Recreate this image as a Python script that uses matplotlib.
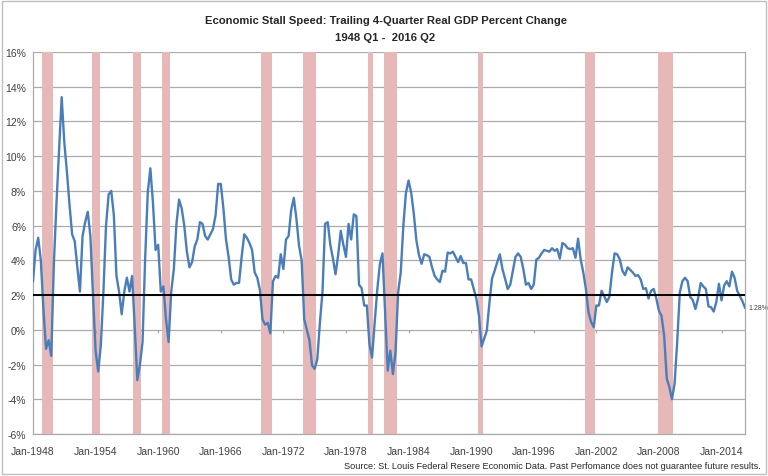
import numpy as np
import pandas as pd
import matplotlib
matplotlib.use('Agg')
import matplotlib.pyplot as plt
from matplotlib.patches import Rectangle

# Trailing 4-quarter real GDP % change, 1948 Q1 .. 2016 Q2
quarters = pd.period_range('1948Q1', '2016Q2', freq='Q')
gdp_yoy = [
    2.8, 4.6, 5.3, 4.0,       # 1948
    1.2, -1.1, -0.6, -1.5,    # 1949
    3.8, 7.3, 10.3, 13.4,     # 1950
    10.8, 9.1, 7.2, 5.5,      # 1951
    5.1, 3.6, 2.2, 5.4,       # 1952
    6.2, 6.8, 5.4, 2.0,       # 1953
    -1.2, -2.4, -0.9, 2.2,    # 1954
    6.0, 7.8, 8.0, 6.6,       # 1955
    3.1, 2.2, 0.9, 2.2,       # 1956
    3.0, 2.2, 3.1, 0.2,       # 1957
    -2.9, -2.0, -0.7, 4.1,    # 1958
    7.9, 9.3, 7.3, 4.6,       # 1959
    4.9, 2.2, 2.5, 0.6,       # 1960
    -0.7, 2.2, 3.5, 6.1,      # 1961
    7.5, 7.0, 6.0, 4.5,       # 1962
    3.6, 3.9, 4.8, 5.2,       # 1963
    6.2, 6.1, 5.4, 5.2,       # 1964
    5.5, 5.8, 6.6, 8.4,       # 1965
    8.4, 7.0, 5.2, 4.2,       # 1966
    2.9, 2.6, 2.7, 2.7,       # 1967
    4.2, 5.5, 5.3, 5.0,       # 1968
    4.6, 3.3, 3.0, 2.3,       # 1969
    0.6, 0.3, 0.4, -0.2,      # 1970
    2.8, 3.1, 3.0, 4.35,      # 1971
    3.5, 5.2, 5.4, 6.9,       # 1972
    7.6, 6.4, 4.85, 4.0,      # 1973
    0.6, 0.0, -0.6, -2.05,    # 1974
    -2.25, -1.7, 0.4, 2.2,    # 1975
    6.1, 6.2, 4.9, 4.1,       # 1976
    3.2, 4.3, 5.7, 4.9,       # 1977
    4.2, 6.1, 5.2, 6.65,      # 1978
    6.55, 2.6, 2.4, 1.4,      # 1979
    1.4, -0.8, -1.6, 0.4,     # 1980
    2.3, 3.8, 4.4, 1.0,       # 1981
    -2.35, -1.2, -2.55, -1.3, # 1982
    2.15, 3.3, 6.0, 7.9,      # 1983
    8.6, 7.9, 6.7, 5.15,      # 1984
    4.3, 3.8, 4.35, 4.3,      # 1985
    4.2, 3.6, 3.1, 2.9,       # 1986
    2.75, 3.4, 3.35, 4.45,    # 1987
    4.4, 4.5, 4.2, 3.9,       # 1988
    4.25, 3.85, 3.85, 2.9,    # 1989
    2.9, 2.35, 1.8, 0.8,      # 1990
    -0.95, -0.5, -0.05, 1.55, # 1991
    2.95, 3.4, 3.9, 4.35,     # 1992
    3.5, 2.95, 2.35, 2.6,     # 1993
    3.4, 4.2, 4.4, 4.2,       # 1994
    3.5, 2.6, 2.7, 2.35,      # 1995
    2.6, 4.05, 4.15, 4.4,     # 1996
    4.6, 4.55, 4.5, 4.7,      # 1997
    4.55, 4.65, 4.1, 5.0,     # 1998
    4.9, 4.7, 4.65, 4.7,      # 1999
    4.15, 5.25, 4.05, 3.3,    # 2000
    2.35, 1.0, 0.45, 0.15,    # 2001
    1.4, 1.4, 2.25, 1.95,     # 2002
    1.6, 1.9, 3.3, 4.4,       # 2003
    4.35, 4.05, 3.4, 3.15,    # 2004
    3.6, 3.45, 3.3, 3.1,      # 2005
    3.15, 2.9, 2.35, 2.4,     # 2006
    1.8, 2.25, 2.35, 1.8,     # 2007
    1.1, 0.8, -0.35, -2.8,    # 2008
    -3.3, -4.0, -3.1, -0.7,   # 2009
    2.15, 2.8, 3.0, 2.8,      # 2010
    1.9, 1.7, 1.2, 1.8,       # 2011
    2.7, 2.5, 2.35, 1.35,     # 2012
    1.3, 1.05, 1.6, 2.65,     # 2013
    1.7, 2.55, 2.8, 2.5,      # 2014
    3.35, 3.0, 2.25, 1.95,    # 2015
    1.65, 1.28,               # 2016
]

# recession shading (quarters)
recessions = [
    ('1949Q1', '1949Q4'), ('1953Q4', '1954Q2'), ('1957Q4', '1958Q2'),
    ('1960Q3', '1961Q1'), ('1970Q1', '1970Q4'), ('1974Q1', '1975Q1'),
    ('1980Q2', '1980Q3'), ('1981Q4', '1982Q4'), ('1990Q4', '1991Q1'),
    ('2001Q1', '2001Q4'), ('2008Q1', '2009Q2'),
]

tick_labels = ['Jan-1948', 'Jan-1954', 'Jan-1960', 'Jan-1966', 'Jan-1972', 'Jan-1978',
               'Jan-1984', 'Jan-1990', 'Jan-1996', 'Jan-2002', 'Jan-2008', 'Jan-2014']
stall_speed = 2.0
last_label = '1.28%'

plt.rcParams['font.family'] = ['Liberation Sans', 'DejaVu Sans']

fig = plt.figure(figsize=(7.68, 4.77), dpi=100)
ax = fig.add_axes([33 / 768, 1 - 435 / 477, 712 / 768, 382 / 477])

x = np.arange(len(quarters))
qidx = {str(q): i for i, q in enumerate(quarters)}

# recession bars
for start, end in recessions:
    ax.axvspan(qidx[start] - 0.5, qidx[end] + 0.5, color='#e6b8b7', lw=0, zorder=1)

# gridlines
yticks = np.arange(-6, 17, 2)
for yv in yticks:
    ax.axhline(yv, color='#ababab', lw=0.9, zorder=0.5)

# GDP line
ax.plot(x, gdp_yoy, color='#4a7ebb', lw=1.7, zorder=3, solid_joinstyle='round')

# stall speed
ax.axhline(stall_speed, color='black', lw=1.4, zorder=4)

ax.set_xlim(0, len(quarters) - 1)
ax.set_ylim(-6, 16)

ax.set_yticks(yticks)
ax.set_yticklabels(['%d%%' % v for v in yticks], fontsize=7.5, color='#404040')
ax.tick_params(axis='y', length=0, pad=5)

xt = np.arange(0, len(quarters), 24)
ax.set_xticks(xt)
ax.set_xticklabels(tick_labels, fontsize=7.5, color='#404040')
ax.tick_params(axis='x', length=0, pad=9)

# small category ticks at the 0% axis
ax.vlines(xt, -0.18, 0, color='#a6a6a6', lw=0.8, zorder=2)

for s in ax.spines.values():
    s.set_color('#ababab')
    s.set_linewidth(0.9)
ax.spines['top'].set_visible(False)

# end label
ax.text(x[-1] + 1.5, gdp_yoy[-1], last_label, fontsize=5, color='#404040',
        va='center', ha='left', clip_on=False)

fig.text(0.502, 0.957, 'Economic Stall Speed: Trailing 4-Quarter Real GDP Percent Change',
         ha='center', va='center', fontsize=8.1, fontweight='bold', color='#262626')
fig.text(0.502, 0.920, '1948 Q1 -  2016 Q2', ha='center', va='center',
         fontsize=8.1, fontweight='bold', color='#262626')
fig.text(0.99, 0.022, 'Source: St. Louis Federal Resere Economic Data. Past Perfomance does not guarantee future results.',
         ha='right', va='center', fontsize=6.6, color='#262626')

# outer chart border
fig.patches.append(Rectangle((0.003, 0.004), 0.994, 0.992, transform=fig.transFigure,
                             fill=False, edgecolor='#bfbfbf', lw=1.0))

fig.savefig('out.png', dpi=100)
